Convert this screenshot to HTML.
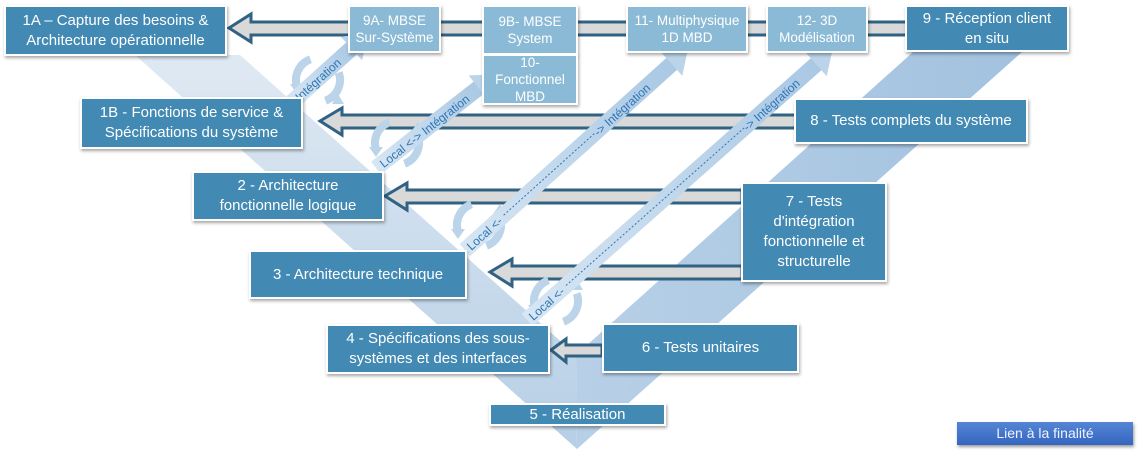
<!DOCTYPE html>
<html><head><meta charset="utf-8"><style>
html,body{margin:0;padding:0;background:#fff;}
body{width:1139px;height:461px;overflow:hidden;position:relative;font-family:"Liberation Sans",sans-serif;}
svg{position:absolute;left:0;top:0;}
.b{position:absolute;background:#428ab4;color:#fff;display:flex;align-items:center;justify-content:center;text-align:center;font-size:15px;line-height:20px;box-shadow:1px 2px 3px rgba(0,0,0,.35);border:2px solid #fff;box-sizing:border-box;}
.l{background:#8bbad6;font-size:13.5px;line-height:17px;}
</style></head><body>
<svg width="1139" height="461" viewBox="0 0 1139 461">
<defs>
<linearGradient id="gl" x1="0" y1="0" x2="0" y2="1"><stop offset="0" stop-color="#dfe9f3"/><stop offset="1" stop-color="#b6cfe6"/></linearGradient>
<linearGradient id="gr" x1="0" y1="0" x2="1" y2="0"><stop offset="0" stop-color="#b8d0e7"/><stop offset="1" stop-color="#a2c2df"/></linearGradient>
<linearGradient id="ga" x1="0" y1="0" x2="1" y2="0"><stop offset="0" stop-color="#d7e6f3"/><stop offset="1" stop-color="#a9c8e4"/></linearGradient>
</defs>
<polygon points="135,55 240,55 576,355 577,449" fill="url(#gl)"/>
<polygon points="913,52 1022,52 577,449 576,355" fill="url(#gr)"/>
<g fill="#d9d9d9" stroke="#2f6283" stroke-width="3">
<polygon points="229,28 251,14 251,22 908,22 908,35 251,35 251,42"/>
<polygon points="320,121 342,108 342,115 797,115 797,128 342,128 342,135"/>
<polygon points="385,196 407,183 407,190 742,190 742,203 407,203 407,210"/>
<polygon points="490,272 512,259 512,266 742,266 742,279 512,279 512,286"/>
<polygon points="551,350 566,339 566,345 602,345 602,356 566,356 566,362"/>
</g>
<g fill="none" stroke="#bcd4ea" stroke-width="8">
<path d="M297.3,87.5 A22,22 0 0 1 310.5,59.3"/><path d="M338.7,72.5 A22,22 0 0 1 325.5,100.7"/>
<path d="M376.3,150.5 A22,22 0 0 1 389.5,122.3"/><path d="M417.7,135.5 A22,22 0 0 1 404.5,163.7"/>
<path d="M458.3,232.5 A22,22 0 0 1 471.5,204.3"/><path d="M499.7,217.5 A22,22 0 0 1 486.5,245.7"/>
<path d="M535.3,308.5 A22,22 0 0 1 548.5,280.3"/><path d="M576.7,293.5 A22,22 0 0 1 563.5,321.7"/>
</g>
<g fill="#bcd4ea">
<polygon points="290,84 304,84 297,94"/><polygon points="332,104 344,104 338,94"/>
<polygon points="369,147 383,147 376,157"/><polygon points="411,132 424,132 418,122"/>
<polygon points="451,229 465,229 458,239"/><polygon points="493,214 506,214 500,204"/>
<polygon points="528,305 542,305 535,315"/><polygon points="570,290 583,290 577,280"/>
</g>
<g transform="translate(292,102) rotate(-42)">
<rect x="0" y="-8" width="84" height="16" fill="url(#ga)"/><polygon points="80,-16 102,0 80,16" fill="#bcd4ea"/>
<text x="6" y="5" font-size="12" fill="#2e75b6">Intégration</text></g>
<g transform="translate(376,168) rotate(-38)">
<rect x="0" y="-8" width="135" height="16" fill="url(#ga)"/><polygon points="130,-16 152,0 130,16" fill="#bcd4ea"/>
<text x="6" y="5" font-size="12" fill="#2e75b6">Local &lt;-&gt; Intégration</text></g>
<g transform="translate(465,250) rotate(-42)">
<rect x="0" y="-8" width="282" height="16" fill="url(#ga)"/><polygon points="278,-16 300,0 278,16" fill="#bcd4ea"/>
<line x1="52" y1="0" x2="175" y2="0" stroke="#2e75b6" stroke-width="1" stroke-dasharray="2,2"/>
<text x="4" y="5" font-size="12" fill="#2e75b6">Local &lt;-</text>
<text x="175" y="5" font-size="12" fill="#2e75b6">-&gt; Intégration</text></g>
<g transform="translate(527,320) rotate(-41.5)">
<rect x="0" y="-8" width="390" height="16" fill="url(#ga)"/><polygon points="386,-16 408,0 386,16" fill="#bcd4ea"/>
<line x1="52" y1="0" x2="290" y2="0" stroke="#2e75b6" stroke-width="1" stroke-dasharray="2,2"/>
<text x="4" y="5" font-size="12" fill="#2e75b6">Local &lt;-</text>
<text x="290" y="5" font-size="12" fill="#2e75b6">-&gt; Intégration</text></g>
</svg>
<div class="b" style="left:4px;top:5px;width:223px;height:51px;">1A – Capture des besoins &amp;<br>Architecture opérationnelle</div>
<div class="b l" style="left:348px;top:5px;width:93px;height:48px;">9A- MBSE<br>Sur-Système</div>
<div class="b l" style="left:482px;top:5px;width:96px;height:50px;">9B- MBSE<br>System</div>
<div class="b l" style="left:482px;top:54px;width:96px;height:51px;">10-<br>Fonctionnel<br>MBD</div>
<div class="b l" style="left:626px;top:5px;width:122px;height:48px;">11- Multiphysique<br>1D MBD</div>
<div class="b l" style="left:766px;top:5px;width:102px;height:48px;">12- 3D<br>Modélisation</div>
<div class="b" style="left:905px;top:5px;width:164px;height:47px;">9 - Réception client<br>en situ</div>
<div class="b" style="left:80px;top:97px;width:223px;height:52px;">1B - Fonctions de service &amp;<br>Spécifications du système</div>
<div class="b" style="left:794px;top:98px;width:234px;height:46px;">8 - Tests complets du système</div>
<div class="b" style="left:192px;top:171px;width:192px;height:50px;">2 - Architecture<br>fonctionnelle logique</div>
<div class="b" style="left:741px;top:182px;width:146px;height:100px;">7 - Tests<br>d'intégration<br>fonctionnelle et<br>structurelle</div>
<div class="b" style="left:249px;top:250px;width:218px;height:49px;">3 - Architecture technique</div>
<div class="b" style="left:326px;top:324px;width:224px;height:50px;">4 - Spécifications des sous-<br>systèmes et des interfaces</div>
<div class="b" style="left:602px;top:323px;width:197px;height:50px;">6 - Tests unitaires</div>
<div class="b" style="left:489px;top:403px;width:177px;height:23px;">5 - Réalisation</div>
<div style="position:absolute;left:957px;top:422px;width:176px;height:23px;background:linear-gradient(#5585d4,#3566c0);color:#eef3ff;font-size:14px;line-height:23px;text-align:center;box-shadow:1px 2px 3px rgba(0,0,0,.4);">Lien à la finalité</div>
</body></html>
